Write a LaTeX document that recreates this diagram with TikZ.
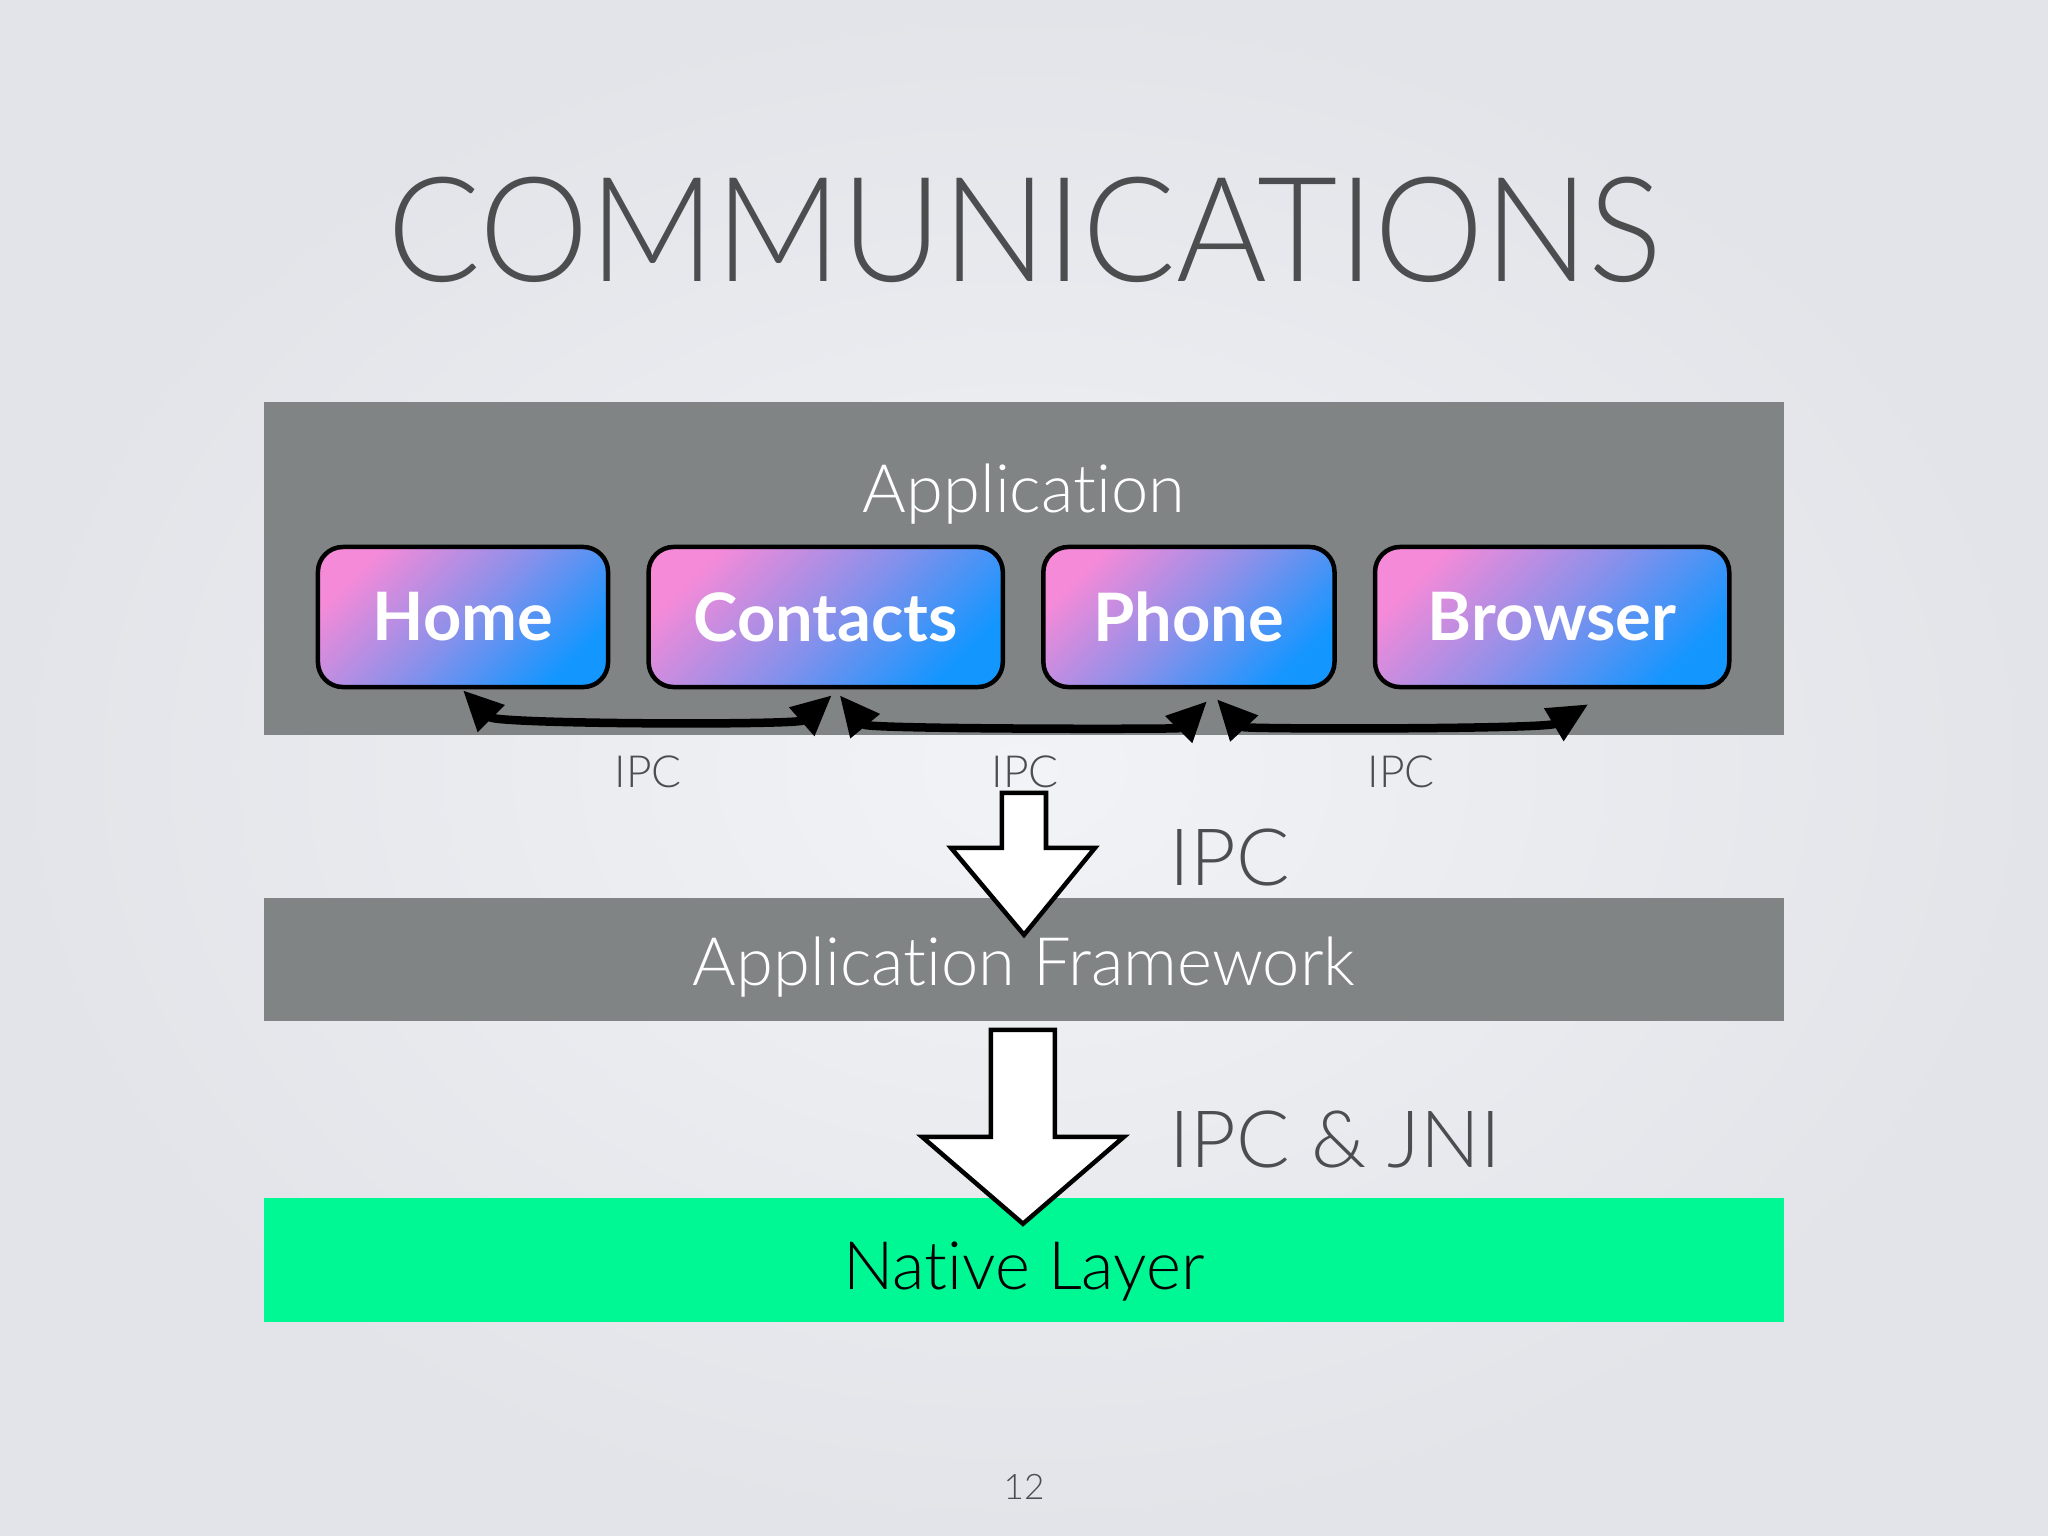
\documentclass[tikz,border=0pt]{standalone}
\usepackage{fontspec}
\usepackage{graphicx}
\setmainfont{Lato}
\newfontfamily\thinfont{Lato Light}[Ligatures=NoCommon]
\usepackage{tikz}
\usetikzlibrary{positioning,arrows.meta,calc}
\definecolor{bgin}{HTML}{F2F3F6}
\definecolor{bgout}{HTML}{E3E4E9}
\definecolor{layergray}{HTML}{808484}
\definecolor{nativegreen}{HTML}{00F894}
\definecolor{titlegray}{HTML}{4C4D4F}
\definecolor{btnpink}{HTML}{F58AD8}
\definecolor{btnmid}{HTML}{8C90EA}
\definecolor{btnblue}{HTML}{1496FF}
\tikzset{layer/.style={rectangle,fill=layergray,minimum width=15.2cm,inner sep=0pt},
         btn/.style={rectangle,rounded corners=0.25cm,draw=black,line width=0.045cm,
           top color=btnpink,bottom color=btnblue,middle color=btnmid,shading angle=45,
           minimum height=1.4cm,inner sep=0pt,text=white,font=\fontsize{19}{22}\selectfont\bfseries},
         dbl/.style={{Triangle[length=4mm,width=3.6mm]}-{Triangle[length=4mm,width=3.6mm]},line width=0.085cm},
         bigdown/.style={draw=black,fill=white,line width=0.045cm,line join=miter},
         ipcsmall/.style={text=titlegray,font=\thinfont\fontsize{12.6}{14}\selectfont,anchor=base},
         ipcbig/.style={text=titlegray,font=\thinfont\fontsize{22.5}{26}\selectfont,anchor=base west,inner sep=0pt},
         layerlbl/.style={font=\thinfont\fontsize{19}{23}\selectfont,anchor=base}
}
\begin{document}
\begin{tikzpicture}[x=0.01cm,y=-0.01cm,node distance=0.36cm]
  \shade[inner color=bgin,outer color=bgout] (0,0) rectangle (2048,1536);
  \node[text=titlegray,font=\thinfont\fontsize{41.5}{46}\selectfont,anchor=base] (title) at (1025,281) {\scalebox{0.95}[1]{COMMUNICATIONS}};
  % layers
  \node[layer,minimum height=3.33cm] (app) at (1024,568.5) {};
  \node[layer,minimum height=1.23cm] (fw) at (1024,959.5) {};
  \node[layer,fill=nativegreen,minimum height=1.24cm] (native) at (1024,1260) {};
  \node[layerlbl,text=white] (applbl) at (1024,512) {Application};
  \node[layerlbl,text=white] (fwlbl) at (1024,985) {Application Framework};
  \node[layerlbl,text=black] (nativelbl) at (1024,1289) {Native Layer};
  % the four apps
  \node[btn,minimum width=2.9cm] (home) at (463,617) {Home};
  \node[btn,minimum width=3.54cm,right=of home] (contacts) {Contacts};
  \node[btn,minimum width=2.91cm,right=of contacts] (phone) {Phone};
  \node[btn,minimum width=3.54cm,right=of phone] (browser) {Browser};
  \draw[dbl] ([yshift=-0.01cm]home.south) .. controls +(34,34) and +(-34,30) .. ([xshift=0.06cm,yshift=-0.06cm]contacts.south);
  \draw[dbl] ([xshift=0.14cm,yshift=-0.06cm]contacts.south) .. controls +(28,34) and +(-28,28) .. ([xshift=0.18cm,yshift=-0.12cm]phone.south);
  \draw[dbl] ([xshift=0.28cm,yshift=-0.1cm]phone.south) .. controls +(28,30) and +(-42,25) .. ([xshift=0.36cm,yshift=-0.15cm]browser.south);
  \node[ipcsmall] (ipc1) at (648,787) {IPC};
  \node[ipcsmall] (ipc2) at (1025,787) {IPC};
  \node[ipcsmall] (ipc3) at (1401,787) {IPC};
  % block arrows between layers
  \draw[bigdown] ([xshift=-0.22cm,yshift=-0.57cm]app.south) -- ++(44,0) -- ++(0,55) -- ++(49,0)
    -- ++(-71,87) -- ++(-73,-87) -- ++(51,0) -- cycle;
  \draw[bigdown] ([xshift=-0.33cm,yshift=-0.08cm]fw.south) -- ++(64,0) -- ++(0,107) -- ++(69,0)
    -- ++(-101,87) -- ++(-101,-87) -- ++(69,0) -- cycle;
  \node[ipcbig] (ipcfw) at (1169,885) {IPC};
  \node[ipcbig] (ipcjni) at (1169,1167) {IPC \& JNI};
  \node[text=titlegray,font=\thinfont\fontsize{10}{12}\selectfont,anchor=base] (pagenum) at (1024,1499) {12};
\end{tikzpicture}
\end{document}
